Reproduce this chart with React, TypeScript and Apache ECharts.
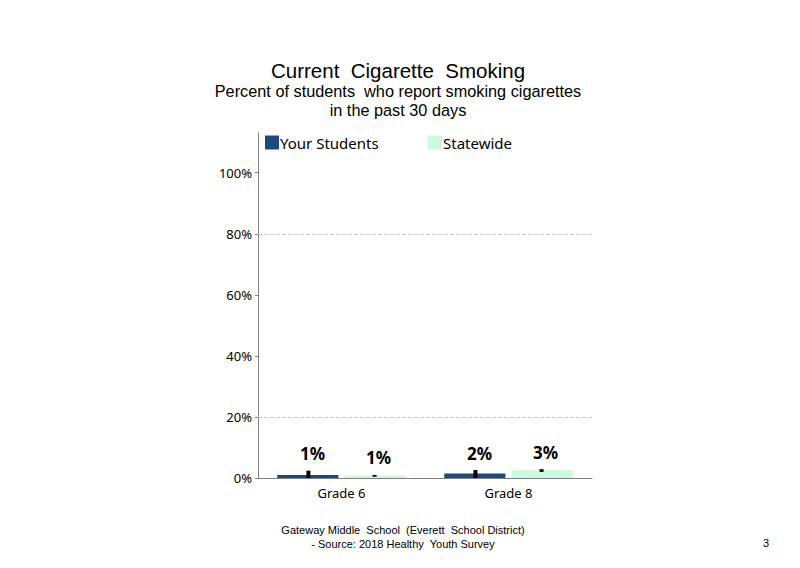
import React, { useEffect, useRef } from "react";
import * as echarts from "echarts";

const categories = ["Grade 6", "Grade 8"];
const seriesNames = ["Your Students", "Statewide"];
const yourStudents = [1.0, 1.5];
const statewide = [0.8, 2.5];
const yourLabels = ["1%", "2%"];
const stateLabels = ["1%", "3%"];
const yourErrLow = [0, 0];
const yourErrHigh = [2.4, 2.6];
const stateErrLow = [0.4, 2.0];
const stateErrHigh = [1.0, 2.9];
const yTicks = [0, 20, 40, 60, 80, 100];
const gridLinesAt = [80, 20];

const BLUE = "#1f497d";
const GREEN = "#cdfadc";

function errorSeries(name: string, low: number[], high: number[], labels: string[], offsetFrac: number) {
  return {
    type: "custom",
    name: name + " err",
    silent: true,
    z: 5,
    renderItem: (params: any, api: any) => {
      const cat = api.value(0);
      const lo = api.coord([cat, api.value(1)]);
      const hi = api.coord([cat, api.value(2)]);
      const bandW = api.size([1, 0])[0];
      const cx = lo[0] + offsetFrac * bandW;
      const h = Math.max(lo[1] - hi[1], 1.5);
      return {
        type: "group",
        children: [
          {
            type: "rect",
            shape: { x: cx - 2, y: hi[1], width: 4, height: h },
            style: { fill: "#000" },
          },
          {
            type: "text",
            x: cx + 4,
            y: hi[1] - 17,
            style: {
              text: labels[params.dataIndex],
              align: "center",
              verticalAlign: "middle",
              font: "bold 17px 'Noto Sans'",
              fill: "#000",
            },
          },
        ],
      };
    },
    data: categories.map((_, i) => [i, low[i], high[i]]),
  };
}

export default function App() {
  const ref = useRef<HTMLDivElement>(null);
  useEffect(() => {
    const chart = echarts.init(ref.current!, null, { renderer: "svg" });
    chart.setOption({
      animation: false,
      backgroundColor: "#fff",
      legend: [
        {
          left: 260,
          top: 130,
          itemWidth: 14,
          itemHeight: 14,
          icon: "rect",
          data: [seriesNames[0]],
          textStyle: { fontSize: 15, color: "#000", fontFamily: "Noto Sans", padding: [0, 0, 0, -4] },
        },
        {
          left: 423,
          top: 130,
          itemWidth: 14,
          itemHeight: 14,
          icon: "rect",
          data: [seriesNames[1]],
          textStyle: { fontSize: 15, color: "#000", fontFamily: "Noto Sans", padding: [0, 0, 0, -4] },
        },
      ],
      grid: { left: 258, right: 208, top: 133, bottom: 90, containLabel: false },
      xAxis: {
        type: "category",
        data: categories,
        axisLine: { lineStyle: { color: "#808080" } },
        axisTick: { show: false },
        axisLabel: { color: "#000", fontSize: 13, fontFamily: "Noto Sans", margin: 8 },
      },
      yAxis: {
        type: "value",
        min: 0,
        max: 113,
        interval: 20,
        axisLine: { show: true, lineStyle: { color: "#808080" } },
        axisTick: { show: true, length: 3, lineStyle: { color: "#808080" } },
        splitLine: { show: false },
        axisLabel: {
          color: "#000",
          fontSize: 13,
          fontFamily: "Noto Sans",
          margin: 6,
          showMaxLabel: false,
          formatter: (v: number) => (yTicks.includes(v) ? v + "%" : ""),
        },
      },
      series: [
        {
          type: "bar",
          name: seriesNames[0],
          data: yourStudents,
          itemStyle: { color: BLUE },
          barGap: "10%",
          barCategoryGap: "23%",
          markLine: {
            silent: true,
            symbol: "none",
            label: { show: false },
            lineStyle: { color: "#c8c8c8", type: "dashed", width: 1 },
            data: gridLinesAt.map((v) => ({ yAxis: v })),
          },
        },
        {
          type: "bar",
          name: seriesNames[1],
          data: statewide,
          itemStyle: { color: GREEN },
          barGap: "10%",
          barCategoryGap: "23%",
        },
        errorSeries(seriesNames[0], yourErrLow, yourErrHigh, yourLabels, -0.198),
        errorSeries(seriesNames[1], stateErrLow, stateErrHigh, stateLabels, 0.198),
      ],
      graphic: [
        {
          type: "text",
          x: 398,
          y: 70,
          style: {
            text: "Current  Cigarette  Smoking",
            align: "center",
            verticalAlign: "middle",
            font: "20.5px 'Liberation Sans'",
            fill: "#000",
          },
        },
        {
          type: "text",
          x: 398,
          y: 100.5,
          style: {
            text: "Percent of students  who report smoking cigarettes\nin the past 30 days",
            align: "center",
            verticalAlign: "middle",
            font: "16.3px 'Liberation Sans'",
            lineHeight: 19,
            fill: "#000",
          },
        },
        {
          type: "text",
          x: 403,
          y: 537,
          style: {
            text: "Gateway Middle  School  (Everett  School District)\n- Source: 2018 Healthy  Youth Survey",
            align: "center",
            verticalAlign: "middle",
            font: "11px 'Liberation Sans'",
            lineHeight: 14,
            fill: "#000",
          },
        },
        {
          type: "text",
          x: 766,
          y: 543,
          style: {
            text: "3",
            align: "center",
            verticalAlign: "middle",
            font: "11px 'Liberation Sans'",
            fill: "#000",
          },
        },
      ],
    });
    return () => chart.dispose();
  }, []);
  return <div ref={ref} style={{ position: "fixed", left: 0, top: 0, width: 800, height: 568 }} />;
}
